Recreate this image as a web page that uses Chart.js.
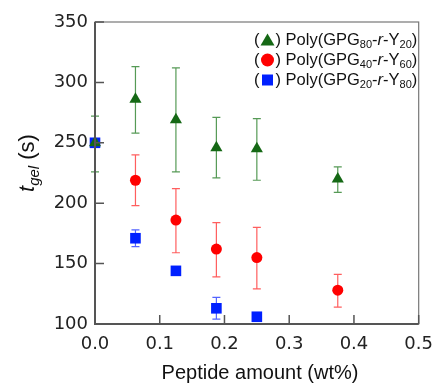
<!DOCTYPE html>
<html>
<head>
<meta charset="utf-8">
<script src="https://cdn.jsdelivr.net/npm/chart.js@4.4.1/dist/chart.umd.min.js"></script>
<style>
  html, body { margin: 0; padding: 0; background: #fff; }
</style>
</head>
<body>
<canvas id="chart" width="443" height="385"></canvas>
<script>
// peptide amount (wt%) on x, gelation time (s) on y
const peptideAmount = [0, 0.0625, 0.125, 0.1875, 0.25, 0.375];

const gpg80 = [250, 286, 269, 246, 245, 220];
const gpg80Low = [226, 258, 226, 221, 219, 209];
const gpg80High = [272, 313, 312, 271, 270, 230];

const gpg40X = [0.0625, 0.125, 0.1875, 0.25, 0.375];
const gpg40 = [219, 186, 162, 155, 128];
const gpg40Low = [198, 159, 139, 129, 114];
const gpg40High = [240, 212, 184, 180, 141];

const gpg20X = [0, 0.0625, 0.125, 0.1875, 0.25];
const gpg20 = [250, 171, 144, 113, 106];
const gpg20Low = [250, 164, 144, 104, 106];
const gpg20High = [250, 178, 144, 122, 106];

const xTicks = [0, 0.1, 0.2, 0.3, 0.4, 0.5];
const yTicks = [100, 150, 200, 250, 300, 350];

const GREEN = "#156815";
const RED = "#ff0000";
const BLUE = "#0020ff";

const toPoints = (xs, ys, lo, hi) => xs.map((x, i) => ({ x: x, y: ys[i], lo: lo[i], hi: hi[i] }));

const sans = '"Liberation Sans", Arial, sans-serif';
const tickFont = '"DejaVu Sans", sans-serif';

// error bars, drawn under the markers
const errorBars = {
  id: "errorBars",
  beforeDatasetsDraw(chart) {
    const ctx = chart.ctx;
    const ys = chart.scales.y, xs = chart.scales.x;
    chart.data.datasets.forEach((ds) => {
      ctx.save();
      ctx.strokeStyle = ds.errColor;
      ctx.lineWidth = 1.2;
      ds.data.forEach((p) => {
        if (p.hi === p.lo) return;
        const px = xs.getPixelForValue(p.x);
        const top = ys.getPixelForValue(p.hi);
        const bot = ys.getPixelForValue(p.lo);
        ctx.beginPath();
        ctx.moveTo(px, top); ctx.lineTo(px, bot);
        ctx.moveTo(px - 4, top); ctx.lineTo(px + 4, top);
        ctx.moveTo(px - 4, bot); ctx.lineTo(px + 4, bot);
        ctx.stroke();
      });
      ctx.restore();
    });
  }
};

function drawParts(ctx, parts, x, y, size) {
  parts.forEach((p) => {
    const s = p.sub ? Math.round(size * 0.68) : size;
    ctx.font = (p.it ? "italic " : "") + s + "px " + sans;
    ctx.fillText(p.t, x, y + (p.sub ? size * 0.3 : 0));
    x += ctx.measureText(p.t).width;
  });
  return x;
}

function partsWidth(ctx, parts, size) {
  let w = 0;
  parts.forEach((p) => {
    ctx.font = (p.it ? "italic " : "") + (p.sub ? Math.round(size * 0.68) : size) + "px " + sans;
    w += ctx.measureText(p.t).width;
  });
  return w;
}

function legendMarker(ctx, style, color, cx, cy) {
  ctx.fillStyle = color;
  ctx.beginPath();
  if (style === "triangle") {
    ctx.moveTo(cx, cy - 6.5);
    ctx.lineTo(cx + 7, cy + 5.5);
    ctx.lineTo(cx - 7, cy + 5.5);
    ctx.closePath();
  } else if (style === "circle") {
    ctx.arc(cx, cy, 6.5, 0, Math.PI * 2);
  } else {
    ctx.rect(cx - 5.5, cy - 5.5, 11, 11);
  }
  ctx.fill();
}

// frame, inward ticks, axis titles and legend
const decorations = {
  id: "decorations",
  afterDraw(chart) {
    const ctx = chart.ctx;
    const a = chart.chartArea;
    const xs = chart.scales.x, ys = chart.scales.y;
    ctx.save();

    ctx.strokeStyle = "#777";
    ctx.lineWidth = 1.2;
    ctx.strokeRect(a.left, a.top, a.right - a.left, a.bottom - a.top);
    ctx.strokeStyle = "#555";
    ctx.lineWidth = 2;
    ctx.beginPath();
    ctx.moveTo(a.left, a.top); ctx.lineTo(a.left, a.bottom); ctx.lineTo(a.right, a.bottom);
    ctx.stroke();

    ctx.lineWidth = 1.5;
    ctx.beginPath();
    yTicks.forEach((v) => {
      const py = ys.getPixelForValue(v);
      ctx.moveTo(a.left, py); ctx.lineTo(a.left + 9, py);
    });
    xTicks.forEach((v) => {
      const px = xs.getPixelForValue(v);
      ctx.moveTo(px, a.bottom); ctx.lineTo(px, a.bottom - 9);
    });
    ctx.stroke();

    // x title
    ctx.fillStyle = "#111";
    ctx.font = "20px " + sans;
    ctx.textAlign = "center";
    ctx.textBaseline = "alphabetic";
    ctx.fillText("Peptide amount (wt%)", 260, 379);

    // y title with subscript
    ctx.save();
    ctx.textBaseline = "middle";
    ctx.translate(28, 163);
    ctx.rotate(-Math.PI / 2);
    ctx.textAlign = "left";
    const yParts = [{ t: "t", it: true }, { t: "gel", it: true, sub: true }, { t: " (s)" }];
    const w = partsWidth(ctx, yParts, 22);
    drawParts(ctx, yParts, -w / 2, 0, 22);
    ctx.restore();

    // legend
    ctx.textAlign = "left";
    ctx.textBaseline = "middle";
    const rows = [
      { style: "triangle", color: GREEN, a: "80", b: "20" },
      { style: "circle", color: RED, a: "40", b: "60" },
      { style: "square", color: BLUE, a: "20", b: "80" }
    ];
    rows.forEach((r, i) => {
      const y = 40 + i * 20;
      ctx.fillStyle = "#111";
      let x = drawParts(ctx, [{ t: "(" }], 254, y, 16.5);
      legendMarker(ctx, r.style, r.color, x + 8, y);
      ctx.fillStyle = "#111";
      drawParts(ctx, [
        { t: ") Poly(GPG" }, { t: r.a, sub: true }, { t: "-" }, { t: "r", it: true },
        { t: "-Y" }, { t: r.b, sub: true }, { t: ")" }
      ], x + 16, y, 16.5);
    });

    ctx.restore();
  }
};

new Chart(document.getElementById("chart"), {
  type: "scatter",
  data: {
    datasets: [
      {
        label: "Poly(GPG80-r-Y20)",
        data: toPoints(peptideAmount, gpg80, gpg80Low, gpg80High),
        pointStyle: "triangle",
        pointRadius: 7,
        backgroundColor: GREEN,
        borderWidth: 0,
        clip: false,
        errColor: "rgba(30,120,30,0.75)"
      },
      {
        label: "Poly(GPG40-r-Y60)",
        data: toPoints(gpg40X, gpg40, gpg40Low, gpg40High),
        pointStyle: "circle",
        pointRadius: 5.5,
        backgroundColor: RED,
        borderWidth: 0,
        clip: false,
        errColor: "rgba(255,40,40,0.75)"
      },
      {
        label: "Poly(GPG20-r-Y80)",
        data: toPoints(gpg20X, gpg20, gpg20Low, gpg20High),
        pointStyle: "rect",
        pointRadius: 7.5,
        backgroundColor: BLUE,
        borderWidth: 0,
        clip: false,
        errColor: "rgba(40,60,255,0.8)"
      }
    ]
  },
  options: {
    responsive: false,
    animation: false,
    devicePixelRatio: 1,
    layout: { padding: { top: 22, right: 16, left: 0, bottom: 0 } },
    plugins: {
      legend: { display: false },
      tooltip: { enabled: false }
    },
    scales: {
      x: {
        type: "linear",
        min: 0,
        max: 0.5,
        afterFit: (s) => { s.height = 61; },
        afterBuildTicks: (s) => { s.ticks = xTicks.map((v) => ({ value: v })); },
        grid: { display: false, drawTicks: false },
        border: { display: false },
        ticks: {
          autoSkip: false,
          maxRotation: 0,
          padding: 10,
          color: "#222",
          font: { family: tickFont, size: 18 },
          callback: (v) => v.toFixed(1)
        }
      },
      y: {
        min: 100,
        max: 350,
        afterFit: (s) => { s.width = 95; },
        afterBuildTicks: (s) => { s.ticks = yTicks.map((v) => ({ value: v })); },
        grid: { display: false, drawTicks: false },
        border: { display: false },
        ticks: {
          padding: 7,
          color: "#222",
          font: { family: tickFont, size: 18 }
        }
      }
    }
  },
  plugins: [errorBars, decorations]
});
</script>
</body>
</html>
